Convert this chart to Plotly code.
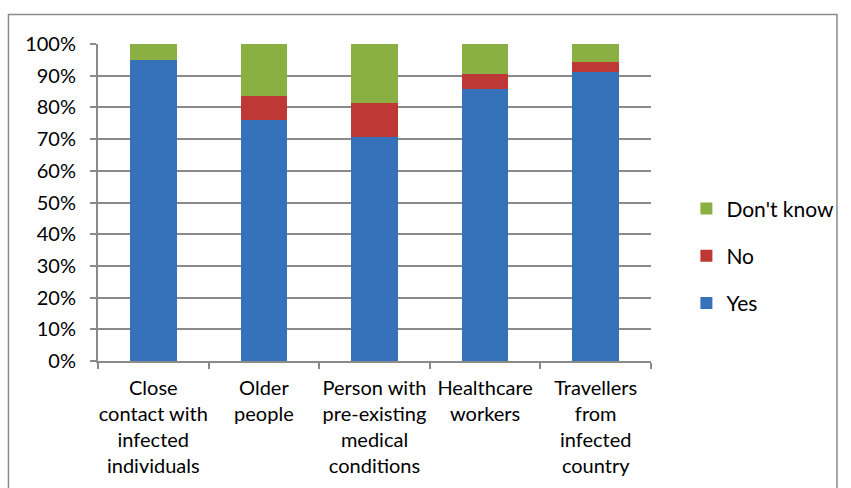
import plotly.graph_objects as go

categories = [
    "Close<br>contact with<br>infected<br>individuals",
    "Older<br>people",
    "Person with<br>pre-existing<br>medical<br>conditions",
    "Healthcare<br>workers",
    "Travellers<br>from<br>infected<br>country",
]
yes_vals = [95.0, 76.1, 70.7, 85.8, 91.3]
no_vals = [0.0, 7.6, 10.7, 4.8, 3.1]
dk_vals = [5.0, 16.3, 18.6, 9.4, 5.6]
tick_vals = [0, 10, 20, 30, 40, 50, 60, 70, 80, 90, 100]
tick_text = [f"{v}%" for v in tick_vals]

FONT = "Lato"
GRID = "#8a8a8a"

fig = go.Figure()
series = [
    ("Yes", yes_vals, "#3672B9", 3),
    ("No", no_vals, "#BE3835", 2),
    ("Don't know", dk_vals, "#8AAF42", 1),
]
for name, vals, color, rank in series:
    fig.add_trace(go.Bar(
        x=categories, y=vals, name=name, legendgroup=name, legendrank=rank,
        marker=dict(color=color, line=dict(width=0)),
        width=0.42,
    ))

fig.update_layout(
    barmode="stack",
    width=851, height=488,
    margin=dict(l=98, r=191, t=44, b=126.5),
    paper_bgcolor="white", plot_bgcolor="white",
    font=dict(family=FONT, size=20, color="#000000"),
    showlegend=True,
    legend=dict(
        traceorder="grouped", tracegroupgap=17,
        x=1.064, xanchor="left", y=0.332, yanchor="middle",
        font=dict(family=FONT, size=21),
        itemwidth=30, bgcolor="rgba(0,0,0,0)",
    ),
    xaxis=dict(
        type="category", tickson="boundaries", ticks="outside", ticklen=6,
        tickcolor=GRID, tickwidth=2,
        showline=True, linecolor=GRID, linewidth=2,
        showgrid=False, tickangle=0, ticklabelstandoff=8,
        tickfont=dict(family=FONT, size=20),
    ),
    yaxis=dict(
        range=[0, 100], tickvals=tick_vals, ticktext=tick_text,
        ticks="outside", ticklen=6, tickcolor=GRID, tickwidth=2,
        showline=True, linecolor=GRID, linewidth=2,
        showgrid=True, gridcolor=GRID, gridwidth=2,
        zeroline=False, ticklabelstandoff=10,
        tickfont=dict(family=FONT, size=20),
    ),
    shapes=[dict(
        type="rect", xref="paper", yref="paper",
        x0=(7 - 98) / 562, x1=(849 - 98) / 562,
        y0=(361.5 - 495) / 317.5, y1=(361.5 - 14.5) / 317.5,
        line=dict(color="#8a8a8a", width=1.5), fillcolor="rgba(0,0,0,0)",
        layer="below",
    )],
)

fig.write_html("out.html")
